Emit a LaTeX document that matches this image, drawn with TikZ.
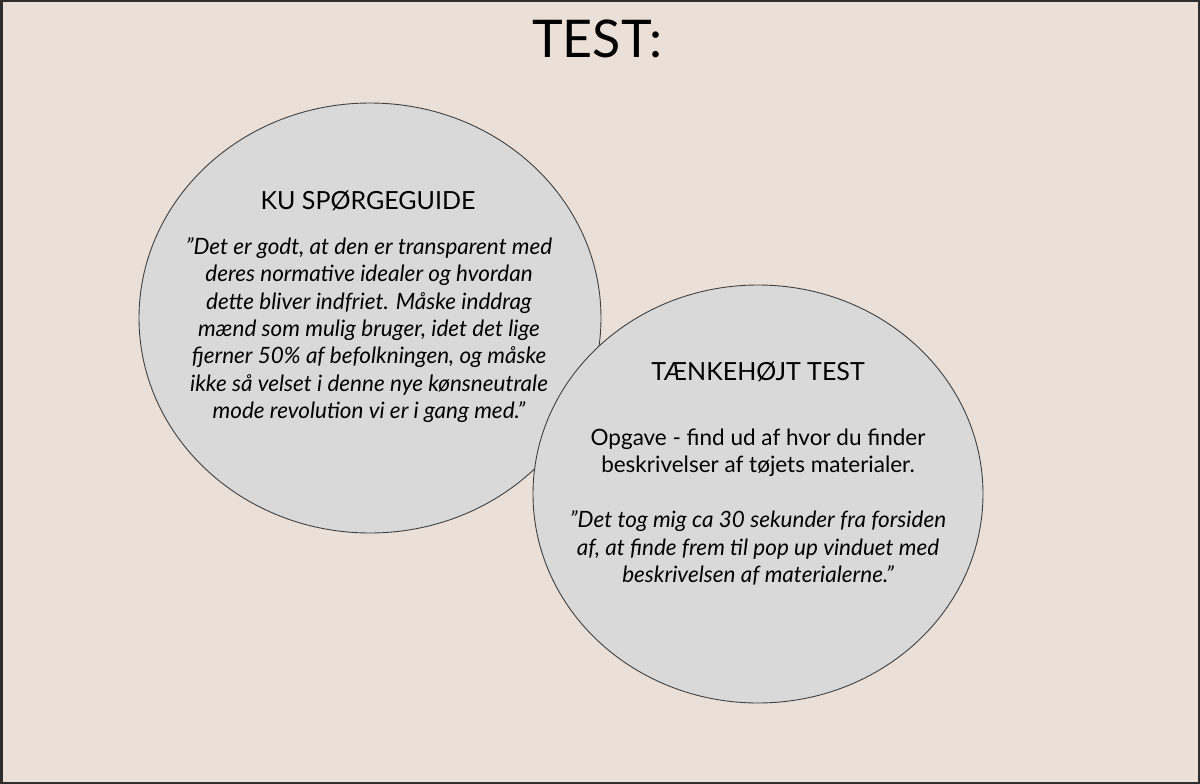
\documentclass[tikz,border=0pt]{standalone}
\usepackage{fontspec}
\setmainfont{Lato}
\usetikzlibrary{shapes.geometric}
\definecolor{PaperBeige}{HTML}{EAE0D8}
\definecolor{BubbleGrey}{HTML}{D9D9D9}
\definecolor{FrameDark}{HTML}{2E2E2E}

\begin{document}
\begin{tikzpicture}[
  x=1pt, y=-1pt,
  every node/.style={inner sep=0pt},
  bubble/.style={ellipse, draw=black!75, fill=BubbleGrey, line width=0.9pt},
  headtxt/.style={font=\fontsize{25}{30}\selectfont},
  quotetxt/.style={align=center, font=\fontsize{22.5}{27.3}\selectfont\itshape},
  tasktxt/.style={align=center, font=\fontsize{22.5}{27.5}\selectfont}
]
\useasboundingbox (0,0) rectangle (1200,784);
\draw[FrameDark, fill=PaperBeige, line width=2.5pt] (1.25,1.25) rectangle (1198.75,782.75);

%% title
\node[font=\fontsize{52}{60}\selectfont] (title) at (597,39) {TEST:};

%% left bubble -- interview guide
\node[bubble, minimum width=462pt, minimum height=430pt] (kububble) at (370,318) {};
\node[headtxt] (kuhead) at (368,201) {KU SPØRGEGUIDE};
\node[quotetxt] (kuquote) at (369,330) {"Det er godt, at den er transparent med\\
  deres normative idealer og hvordan\\
  dette bliver indfriet. Måske inddrag\\
  mænd som mulig bruger, idet det lige\\
  fjerner 50\% af befolkningen, og måske\\
  ikke så velset i denne nye kønsneutrale\\
  mode revolution vi er i gang med."};

%% right bubble -- think aloud test
\node[bubble, minimum width=450pt, minimum height=418pt] (thinkbubble) at (758,494) {};
\node[headtxt] (thinkhead) at (758,372) {TÆNKEHØJT TEST};
\node[tasktxt] (thinktask) at (758,453) {Opgave - find ud af hvor du finder\\
  beskrivelser af tøjets materialer.};
\node[quotetxt] (thinkquote) at (758,548) {"Det tog mig ca 30 sekunder fra forsiden\\
  af, at finde frem til pop up vinduet med\\
  beskrivelsen af materialerne."};
\end{tikzpicture}
\end{document}
